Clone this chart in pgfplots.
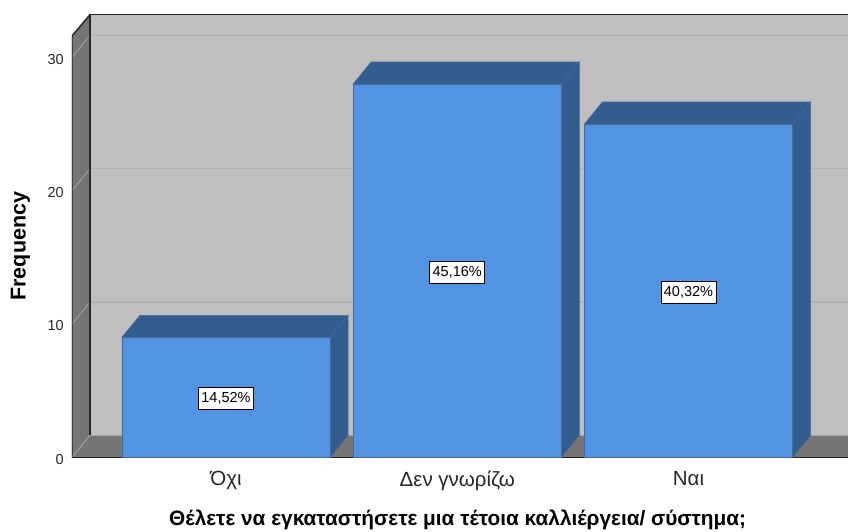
\documentclass[border=0pt]{standalone}
\usepackage{pgfplots}
\pgfplotsset{compat=1.18}
\usepackage{fontspec}
\setmainfont{Liberation Sans}
\definecolor{wall}{HTML}{BFBFBF}
\definecolor{side}{HTML}{757575}
\definecolor{gridb}{HTML}{B2B2B2}
\definecolor{gridl}{HTML}{A0A0A0}
\definecolor{front}{HTML}{5294E2}
\definecolor{dark}{HTML}{335C8F}
\definecolor{edge}{HTML}{44699A}
\begin{document}
\begin{tikzpicture}[x=1pt,y=1pt]
\useasboundingbox (-72,-73) rectangle (776,458);
\begin{axis}[
  at={(0,0)}, anchor=south west,
  scale only axis, width=776pt, height=444pt,
  xmin=-0.6659, xmax=2.6897, ymin=-0.05, ymax=33.25,
  axis line style={draw=none},
  major tick length=0pt,
  xtick={0,1,2},
  xticklabels={Όχι,Δεν γνωρίζω,Ναι},
  ytick={0,10,20,30},
  /pgf/number format/assume math mode=true,
  xticklabel style={font=\fontsize{20.5}{22}\selectfont, text=black!85, inner sep=0pt, yshift=-13pt},
  yticklabel style={font=\fontsize{14.5}{16}\selectfont, text=black!85, inner sep=0pt, xshift=-8pt, yshift=-2pt},
  xlabel={Θέλετε να εγκαταστήσετε μια τέτοια καλλιέργεια/ σύστημα;},
  ylabel={Frequency},
  xlabel style={font=\bfseries\fontsize{20.8}{23}\selectfont, at={(axis description cs:0.497,-0.1385)}, anchor=center, inner sep=0pt},
  ylabel style={font=\bfseries\fontsize{21.5}{24}\selectfont, at={(axis description cs:-0.0665,0.477)}, anchor=center, inner sep=0pt},
  clip=true,
]
% walls
\addplot[fill=wall, draw=none] coordinates {(-0.588,1.65)(-0.588,33.2)(2.7,33.2)(2.7,1.65)} --cycle;
\addplot[fill=side, draw=none] coordinates {(-0.6659,0)(-0.6659,31.6)(-0.588,33.2)(-0.588,1.65)} --cycle;
\addplot[fill=side, draw=none] coordinates {(-0.6659,0)(-0.588,1.65)(2.7676,1.65)(2.6897,0)} --cycle;
% grid
\addplot[gridb, line width=1.2pt] coordinates {(-0.588,11.65)(2.7,11.65)};
\addplot[gridb, line width=1.2pt] coordinates {(-0.588,21.65)(2.7,21.65)};
\addplot[gridb, line width=1.2pt] coordinates {(-0.588,31.65)(2.7,31.65)};
\addplot[gridl, line width=1pt] coordinates {(-0.6659,10)(-0.588,11.65)};
\addplot[gridl, line width=1pt] coordinates {(-0.6659,20)(-0.588,21.65)};
\addplot[gridl, line width=1pt] coordinates {(-0.6659,30)(-0.588,31.65)};
\addplot[gridl, line width=1pt] coordinates {(-0.6659,0)(-0.588,1.65)};
% frame
\addplot[black!85, line width=1.5pt] coordinates {(-0.588,1.65)(-0.588,33.2)(2.7,33.2)};
\addplot[black!85, line width=1.5pt] coordinates {(-0.6659,0)(-0.6659,31.6)(-0.588,33.2)};
\addplot[black!85, line width=1.5pt] coordinates {(-0.6659,0)(2.6897,0)};
% bar 0
\addplot[fill=dark, draw=edge, line width=0.6pt] coordinates {(-0.45,9)(-0.372,10.65)(0.528,10.65)(0.45,9)} --cycle;
\addplot[fill=dark, draw=edge, line width=0.6pt] coordinates {(0.45,9)(0.528,10.65)(0.528,1.65)(0.45,0)} --cycle;
% bar 1
\addplot[fill=dark, draw=edge, line width=0.6pt] coordinates {(0.55,28)(0.628,29.65)(1.528,29.65)(1.45,28)} --cycle;
\addplot[fill=dark, draw=edge, line width=0.6pt] coordinates {(1.45,28)(1.528,29.65)(1.528,1.65)(1.45,0)} --cycle;
% bar 2
\addplot[fill=dark, draw=edge, line width=0.6pt] coordinates {(1.55,25)(1.628,26.65)(2.528,26.65)(2.45,25)} --cycle;
\addplot[fill=dark, draw=edge, line width=0.6pt] coordinates {(2.45,25)(2.528,26.65)(2.528,1.65)(2.45,0)} --cycle;
% fronts
\addplot[ybar, bar width=208pt, bar shift=0pt, fill=front, draw=edge, line width=0.6pt] coordinates {(0,9)(1,28)(2,25)};
% labels
\addplot[draw=none, mark=none, nodes near coords, point meta=explicit symbolic,
  every node near coord/.style={anchor=center, yshift=-1.5pt, fill=white, draw=black, line width=0.8pt, inner sep=0pt, text=black, minimum width=55pt, minimum height=22pt, font=\fontsize{14.5}{16}\selectfont}]
  coordinates {(0,4.5)[14,52\%] (1,14)[45,16\%] (2,12.5)[40,32\%]};
\end{axis}
\end{tikzpicture}
\end{document}
